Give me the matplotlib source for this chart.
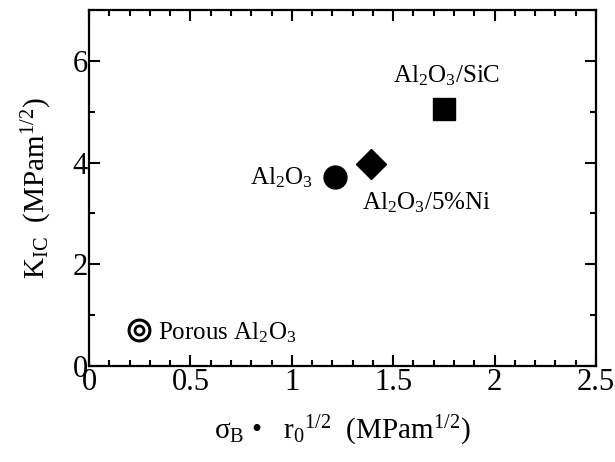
import matplotlib
matplotlib.use("Agg")
import matplotlib.pyplot as plt
from matplotlib.ticker import MultipleLocator

plt.rcParams["font.family"] = ["Liberation Serif", "DejaVu Serif"]
plt.rcParams["mathtext.fontset"] = "custom"
plt.rcParams["mathtext.rm"] = "Liberation Serif"
plt.rcParams["mathtext.it"] = "Liberation Serif:italic"

# ---------- data ----------
materials = ["Porous Al$_2$O$_3$", "Al$_2$O$_3$", "Al$_2$O$_3$/5%Ni", "Al$_2$O$_3$/SiC"]
sigma_r = [0.247, 1.213, 1.39, 1.75]   # sigma_B * r0^1/2 (MPam^1/2)
k_ic = [0.71, 3.71, 3.97, 5.05]        # K_IC (MPam^1/2)

# ---------- style ----------
markers = ["o", "o", "D", "s"]
sizes = [15.0, 16.5, 15.5, 16.0]
label_offsets = [(13.5, -2), (-16, 0), (-6.5, -28), (2, 24)]
label_ha = ["left", "right", "left", "center"]

fig = plt.figure(figsize=(6.15, 4.62), dpi=100)
ax = fig.add_axes([0.1447, 0.2078, 0.8244, 0.7705])

for i, name in enumerate(materials):
    if i == 0:
        # double circle for the porous one
        ax.plot(sigma_r[i], k_ic[i], "o", ms=sizes[i], mfc="none", mec="black", mew=2.2)
        ax.plot(sigma_r[i], k_ic[i], "o", ms=6.5, mfc="none", mec="black", mew=2.0)
    else:
        ax.plot(sigma_r[i], k_ic[i], markers[i], ms=sizes[i], color="black")
    ax.annotate(name, (sigma_r[i], k_ic[i]), xytext=label_offsets[i],
                textcoords="offset points", ha=label_ha[i], va="center", fontsize=18)

ax.set_xlim(0, 2.5)
ax.set_ylim(0, 7)
ax.xaxis.set_major_locator(MultipleLocator(0.5))
ax.xaxis.set_minor_locator(MultipleLocator(0.1))
ax.yaxis.set_major_locator(MultipleLocator(2))
ax.yaxis.set_minor_locator(MultipleLocator(1))
ax.set_xticks([0, 0.5, 1, 1.5, 2, 2.5])
ax.set_xticklabels(["0", "0.5", "1", "1.5", "2", "2.5"])

ax.tick_params(which="both", direction="in", top=True, right=True, labelsize=22, width=1.5)
ax.tick_params(which="major", length=8)
ax.tick_params(which="minor", length=4)
ax.tick_params(axis="x", which="major", pad=1.5)
ax.tick_params(axis="y", which="major", pad=1)
for s in ax.spines.values():
    s.set_linewidth(1.6)

ax.set_xlabel("σ$_\\mathrm{B}$ •   r$_0$$^{1/2}$  (MPam$^{1/2}$)", fontsize=21, labelpad=12)
ax.set_ylabel("K$_\\mathrm{IC}$  (MPam$^{1/2}$)", fontsize=21, labelpad=13)

fig.savefig("out.png", dpi=100)
